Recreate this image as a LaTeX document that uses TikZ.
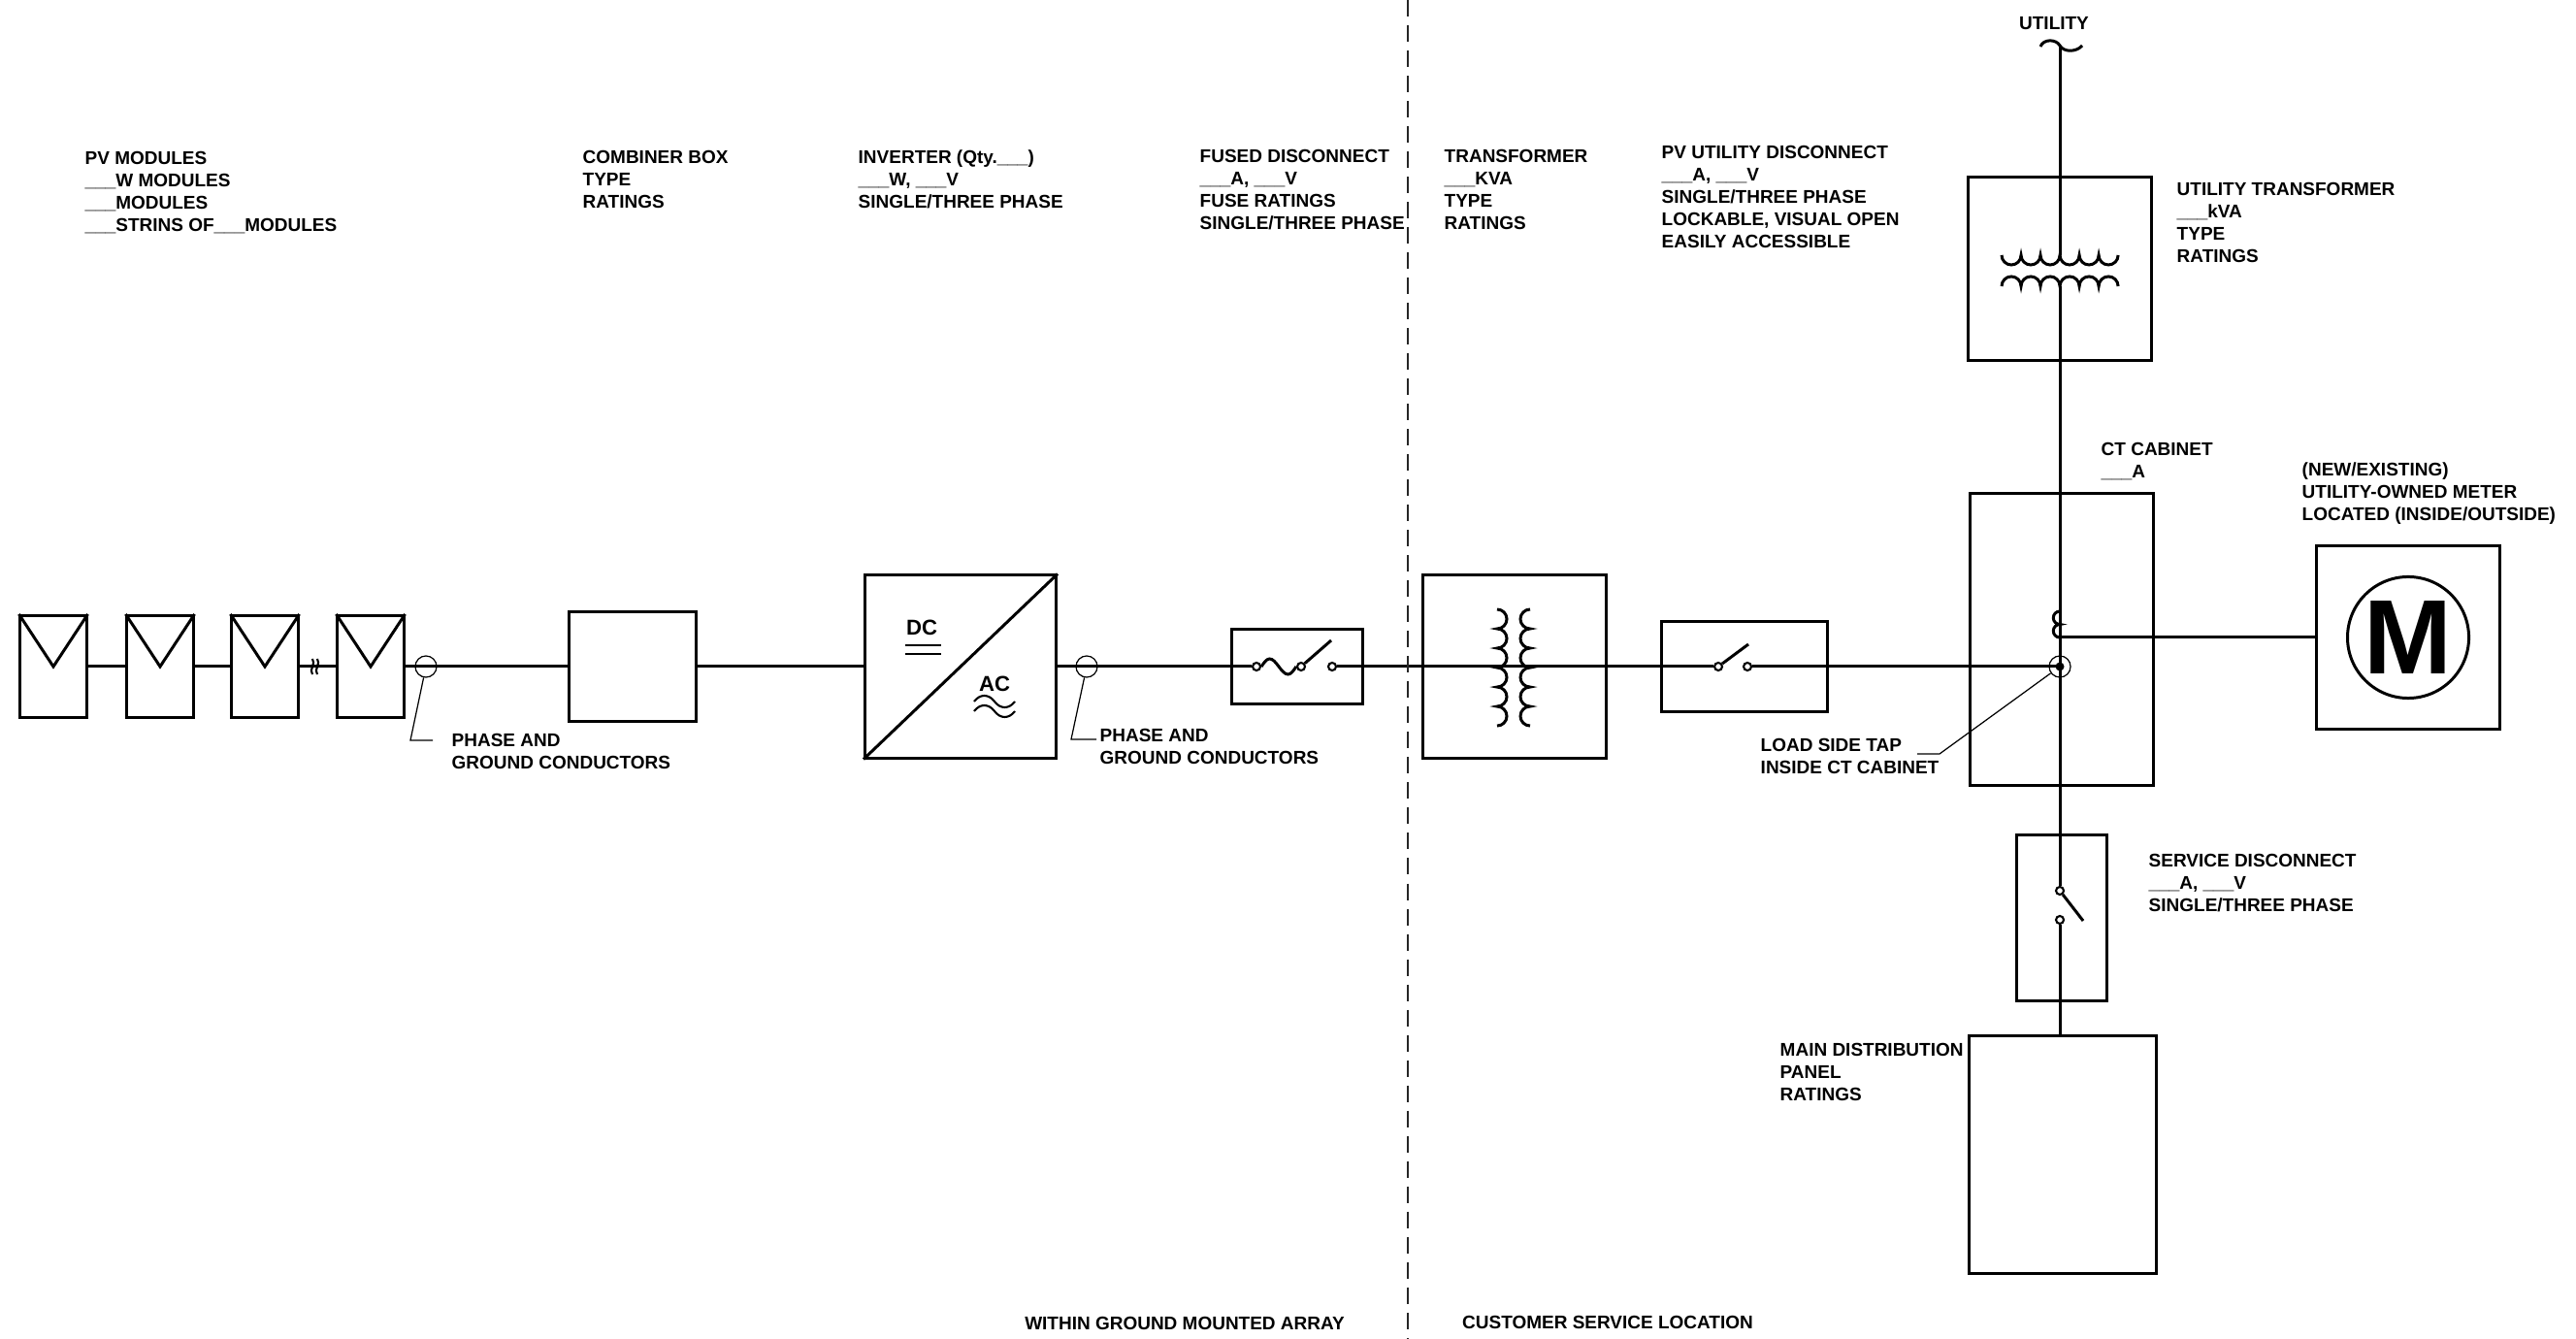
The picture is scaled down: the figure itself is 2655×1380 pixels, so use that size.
\documentclass[tikz,border=0pt]{standalone}
\usepackage{fontspec}
\setmainfont{Liberation Sans}
\newcommand{\lblfont}{\fontsize{5.4pt}{6.54pt}\selectfont\bfseries}
\tikzset{wire/.style={line width=0.85pt}}
\tikzset{thinwire/.style={line width=0.6pt}}
\tikzset{box/.style={draw, line width=0.85pt, inner sep=0pt}}
\tikzset{term/.style={draw, circle, line width=0.6pt, inner sep=0pt, minimum size=0.08cm}}
\tikzset{marker/.style={draw, circle, line width=0.35pt, inner sep=0pt, minimum size=0.22cm}}
\tikzset{leader/.style={line width=0.35pt}}
\tikzset{divider/.style={line width=0.4pt, black!85, dash pattern=on 0.17cm off 0.09cm}}
\tikzset{lbl/.style={anchor=north west, align=left, inner sep=0pt, font=\lblfont}}

\begin{document}
\begin{tikzpicture}[x=0.01cm, y=-0.01cm]
\useasboundingbox (0,0) rectangle (2655,1380);
% array side
\foreach \n/\x in {1/55, 2/165, 3/273, 4/382}
  \node[box, minimum width=0.68cm, minimum height=1.05cm] (pv\n) at (\x,687) {};
\foreach \n in {1,...,4}
  \draw[wire] (pv\n.north west) -- (pv\n.center) -- (pv\n.north east);
\node[box, minimum width=1.31cm, minimum height=1.12cm] (comb) at (652,687) {};
\node[box, minimum width=1.97cm, minimum height=1.88cm] (inv) at (990,687) {};
\node[box, minimum width=1.34cm, minimum height=0.77cm] (fdis) at (1337,687) {};
\node[marker] (pg1) at (439,687) {};
\node[marker] (pg2) at (1120,687) {};
\draw[wire] (pv1) -- (pv2) -- (pv3) -- (pv4) -- (comb) -- (inv) -- (fdis);
\foreach \x in {322,327}
  \draw[thinwire] (\x,679) .. controls (\x+4,684) and (\x-4,690) .. (\x,695);
% inverter
\draw[wire] (inv.south west) -- (inv.north east);
\node[inner sep=0pt, font=\fontsize{6.3pt}{7pt}\selectfont\bfseries] (dc) at (950,647) {DC};
\draw[thinwire] (933,665) -- (970,665);
\draw[thinwire] (933,674) -- (970,674);
\node[inner sep=0pt, font=\fontsize{6.3pt}{7pt}\selectfont\bfseries] (ac) at (1025,705) {AC};
\foreach \y in {723,733}
  \draw[thinwire] (1004,\y) .. controls (1010,\y-8) and (1019,\y-8) .. (1025,\y)
    .. controls (1031,\y+8) and (1040,\y+8) .. (1046,\y);
% fused disconnect
\node[term] (f1) at (1295,687) {};
\node[term] (f2) at (1341,687) {};
\node[term] (f3) at (1373,687) {};
\coordinate (fblade) at (1372,660);
\draw[wire] (fdis.west) -- (f1);
\draw[wire] (f1.east) sin (1308.5,679) cos (1318,687) sin (1327.5,695) cos (f2.west);
\draw[wire] (f2) -- (fblade);
% transformer and pv utility disconnect
\node[box, minimum width=1.89cm, minimum height=1.88cm] (xfmr) at (1561,687) {};
\node[box, minimum width=1.71cm, minimum height=0.92cm] (pvdis) at (1798,687) {};
\node[term] (d1) at (1771,687) {};
\node[term] (d2) at (1801,687) {};
\coordinate (dblade) at (1802,664);
\draw[wire] (f3) -- (fdis.east) -- (pvdis.west) -- (d1);
\draw[wire] (d1) -- (dblade);
\draw[wire] (1543,628) \foreach \k in {1,...,6} {arc[start angle=90, end angle=-90, radius=0.1cm]};
\draw[wire] (1577,628) \foreach \k in {1,...,6} {arc[start angle=90, end angle=270, radius=0.1cm]};
% utility side
\node[box, minimum width=1.89cm, minimum height=1.89cm] (uxf) at (2123,277) {};
\node[box, minimum width=1.89cm, minimum height=3.00cm] (ct) at (2125,659) {};
\node[box, minimum width=1.89cm, minimum height=1.89cm] (meter) at (2482,657) {};
\node[draw, circle, line width=0.85pt, minimum size=1.25cm, inner sep=0pt,
  font=\fontsize{31pt}{31pt}\selectfont\bfseries] (mcirc) at (meter) {M};
\node[box, minimum width=0.93cm, minimum height=1.70cm] (sdis) at (2125,946) {};
\node[box, minimum width=1.93cm, minimum height=2.45cm] (mdp) at (2126,1190) {};
\node[marker] (tap) at (2123,687) {};
\coordinate (util) at (2123,47);
\coordinate (ucoil1) at (2123,263);
\coordinate (ucoil2) at (2123,295);
\coordinate (ctc) at (2123,657);
\node[term] (s1) at (2123,918) {};
\node[term] (s2) at (2123,948) {};
\coordinate (sblade) at (2147,949);
\draw[wire] (2103,48) .. controls (2106,40) and (2119,40) .. (util)
  .. controls (2127,54) and (2140,54) .. (2146,47);
\draw[wire] (util) -- (ucoil1);
\draw[wire] (2063,263) \foreach \k in {1,...,6} {arc[start angle=180, end angle=360, radius=0.1cm]};
\draw[wire] (2063,295) \foreach \k in {1,...,6} {arc[start angle=180, end angle=0, radius=0.1cm]};
\draw[wire] (ucoil2) -- (tap.center) -- (s1);
\draw[wire] (2123,630) \foreach \k in {1,2} {arc[start angle=90, end angle=270, radius=0.0675cm]};
\draw[wire] (ctc) -- (meter);
\draw[wire] (d2) -- (pvdis.east) -- (tap.center);
\fill (tap) circle[radius=0.045cm];
\draw[wire] (s1) -- (sblade);
\draw[wire] (s2) -- (s2 |- mdp.north);
% leaders
\coordinate (pg1k) at (423,763);
\coordinate (pg2k) at (1104,762);
\coordinate (tapk) at (1999,777);
\draw[leader] (pg1) -- (pg1k) -- ++(23,0);
\draw[leader] (pg2) -- (pg2k) -- ++(26,0);
\draw[leader] (tap) -- (tapk) -- ++(-23,0);
% divider
\coordinate (divtop) at (1451,0);
\coordinate (divbot) at (1451,1380);
\draw[divider] (divtop) -- (divbot);
% labels
\node[lbl] (pvlbl) at (87,156) {PV MODULES\\\_\_\_W MODULES\\\_\_\_MODULES\\\_\_\_STRINS OF\_\_\_MODULES};
\node[lbl] (comblbl) at (600,155) {COMBINER BOX\\TYPE\\RATINGS};
\node[lbl] (invlbl) at (884,154) {INVERTER (Qty.\_\_\_)\\\_\_\_W, \_\_\_V\\SINGLE/THREE PHASE};
\node[lbl] (fdislbl) at (1236,154) {FUSED DISCONNECT\\\_\_\_A, \_\_\_V\\FUSE RATINGS\\SINGLE/THREE PHASE};
\node[lbl] (xfmrlbl) at (1488,154) {TRANSFORMER\\\_\_\_KVA\\TYPE\\RATINGS};
\node[lbl] (pvdislbl) at (1712,150) {PV UTILITY DISCONNECT\\\_\_\_A, \_\_\_V\\SINGLE/THREE PHASE\\LOCKABLE, VISUAL OPEN\\EASILY ACCESSIBLE};
\node[inner sep=0pt, font=\lblfont] (utillbl) at (2117,24) {UTILITY};
\node[lbl] (uxflbl) at (2243,188) {UTILITY TRANSFORMER\\\_\_\_kVA\\TYPE\\RATINGS};
\node[lbl] (ctlbl) at (2165,456) {CT CABINET\\\_\_\_A};
\node[lbl] (meterlbl) at (2372,476) {(NEW/EXISTING)\\UTILITY-OWNED METER\\LOCATED (INSIDE/OUTSIDE)};
\node[lbl] (taplbl) at (1814,761) {LOAD SIDE TAP\\INSIDE CT CABINET};
\node[lbl] (sdislbl) at (2214,880) {SERVICE DISCONNECT\\\_\_\_A, \_\_\_V\\SINGLE/THREE PHASE};
\node[lbl] (mdplbl) at (1834,1075) {MAIN DISTRIBUTION\\PANEL\\RATINGS};
\node[lbl] (ph1lbl) at (465,756) {PHASE AND\\GROUND CONDUCTORS};
\node[lbl] (ph2lbl) at (1133,751) {PHASE AND\\GROUND CONDUCTORS};
\node[inner sep=0pt, font=\lblfont] (arraylbl) at (1221,1364) {WITHIN GROUND MOUNTED ARRAY};
\node[inner sep=0pt, font=\lblfont] (custlbl) at (1657,1363) {CUSTOMER SERVICE LOCATION};
\end{tikzpicture}
\end{document}
